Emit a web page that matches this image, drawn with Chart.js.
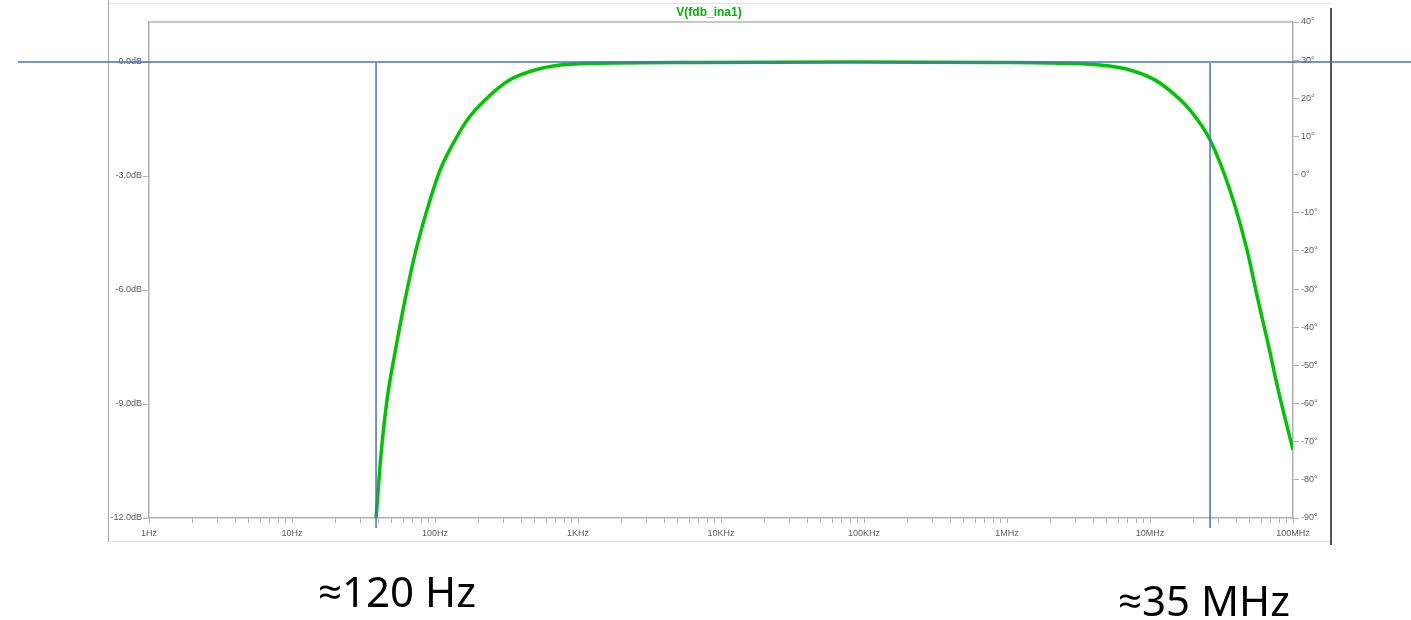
<!DOCTYPE html>
<html>
<head>
<meta charset="utf-8">
<script src="https://cdn.jsdelivr.net/npm/chart.js@4.4.1/dist/chart.umd.min.js"></script>
<style>
  html, body { margin: 0; padding: 0; background: #ffffff; }
  #wrap { position: relative; width: 1411px; height: 620px; }
  canvas { position: absolute; left: 0; top: 0; }
  .note { position: absolute; font-family: "Noto Sans", "Open Sans", sans-serif; font-size: 42px; color: #000; white-space: nowrap; line-height: 1; }
</style>
</head>
<body>
<div id="wrap">
  <canvas id="c" width="1411" height="620"></canvas>
  <div class="note" id="n1" style="left:318px; top:570px;">≈120 Hz</div>
  <div class="note" id="n2" style="left:1118px; top:579px;">≈35 MHz</div>
</div>
<script>
// ---- data ----
const chartTitle = 'V(fdb_ina1)';
const freqHz = [38.7, 41.9, 46.2, 53.4, 61.7, 73.6, 92.3, 108.4, 131.5, 170, 224, 334, 500, 748, 1425, 7130, 79800,
                893000, 2.35e6, 4.47e6, 7.24e6, 1.08e7, 1.50e7, 1.90e7, 2.63e7, 3.62e7, 4.77e7, 5.69e7, 6.68e7, 7.85e7, 1e8];
const magDb  = [-12.0, -10.34, -8.89, -7.5, -6.26, -4.95, -3.63, -2.85, -2.2, -1.5, -1.0, -0.47, -0.21, -0.08, -0.03, -0.01, 0,
                -0.01, -0.03, -0.08, -0.21, -0.47, -0.87, -1.26, -2.05, -3.37, -4.95, -6.26, -7.4, -8.6, -10.21];
const xTickValues = [1, 10, 100, 1e3, 1e4, 1e5, 1e6, 1e7, 1e8];
const xTickLabels = ['1Hz', '10Hz', '100Hz', '1KHz', '10KHz', '100KHz', '1MHz', '10MHz', '100MHz'];
const yLeftTicks  = [0, -3, -6, -9, -12];
const yLeftLabels = ['0.0dB', '-3.0dB', '-6.0dB', '-9.0dB', '-12.0dB'];
const yRightTicks  = [40, 30, 20, 10, 0, -10, -20, -30, -40, -50, -60, -70, -80, -90];
const yRightLabels = ['40°', '30°', '20°', '10°', '0°', '-10°', '-20°', '-30°', '-40°', '-50°', '-60°', '-70°', '-80°', '-90°'];
const markerFreqs = [38.7, 2.63e7];   // blue cursor lines (≈120 Hz, ≈35 MHz annotations)
const refLevelDb = 0;                 // blue horizontal reference line

// ---- helpers ----
const minorTicks = [];
xTickValues.forEach((d, i) => {
  minorTicks.push(d);
  if (i < xTickValues.length - 1) for (let m = 2; m <= 9; m++) minorTicks.push(d * m);
});

const framePlugin = {
  id: 'frame',
  beforeDraw(chart) {
    const ctx = chart.ctx, a = chart.chartArea;
    ctx.save();
    ctx.strokeStyle = '#e3e3e3'; ctx.lineWidth = 1;
    ctx.beginPath(); ctx.moveTo(108, 3.5); ctx.lineTo(1332, 3.5); ctx.stroke();
    ctx.beginPath(); ctx.moveTo(108, 541.5); ctx.lineTo(1332, 541.5); ctx.stroke();
    ctx.strokeStyle = '#a8a8a8';
    ctx.beginPath(); ctx.moveTo(108.5, 0); ctx.lineTo(108.5, 542); ctx.stroke();
    ctx.strokeStyle = '#555'; ctx.lineWidth = 2;
    ctx.beginPath(); ctx.moveTo(1331, 8); ctx.lineTo(1331, 545); ctx.stroke();
    ctx.strokeStyle = '#b5b5b5'; ctx.lineWidth = 1.5;
    ctx.beginPath(); ctx.moveTo(a.left, a.top); ctx.lineTo(a.right, a.top); ctx.stroke();
    // title
    ctx.fillStyle = '#00b400';
    ctx.font = 'bold 12px "Liberation Sans", Arial, sans-serif';
    ctx.textAlign = 'center'; ctx.textBaseline = 'middle';
    ctx.fillText(chartTitle, 709, 13);
    ctx.restore();
  },
  afterDatasetsDraw(chart) {
    const ctx = chart.ctx, x = chart.scales.x, y = chart.scales.y;
    const y0 = y.getPixelForValue(refLevelDb);
    const yb = y.getPixelForValue(-12);
    ctx.save();
    ctx.strokeStyle = '#4472c4'; ctx.lineWidth = 1.5;
    ctx.beginPath(); ctx.moveTo(18, y0); ctx.lineTo(1411, y0); ctx.stroke();
    markerFreqs.forEach(f => {
      const px = x.getPixelForValue(f);
      ctx.beginPath(); ctx.moveTo(px, y0 + 1); ctx.lineTo(px, yb + 10); ctx.stroke();
    });
    ctx.restore();
  }
};

const tickFont = { family: '"Liberation Sans", Arial, sans-serif', size: 9 };
const axisGrey = '#b0b0b0';

new Chart(document.getElementById('c'), {
  type: 'line',
  data: {
    datasets: [{
      data: freqHz.map((f, i) => ({ x: f, y: magDb[i] })),
      borderColor: '#00c400',
      borderWidth: 3.5,
      pointRadius: 0,
      cubicInterpolationMode: 'monotone',
      fill: false,
      yAxisID: 'y'
    }]
  },
  plugins: [framePlugin],
  options: {
    responsive: false,
    devicePixelRatio: 1,
    animation: false,
    layout: { padding: { left: 0, top: 22, right: 78, bottom: 79 } },
    plugins: { legend: { display: false }, tooltip: { enabled: false }, title: { display: false } },
    scales: {
      x: {
        type: 'logarithmic',
        min: 1, max: 1e8,
        afterBuildTicks: s => { s.ticks = minorTicks.map(v => ({ value: v })); },
        afterFit: s => { s.height = 23; },
        grid: { drawOnChartArea: false, tickLength: 5, color: axisGrey },
        border: { display: true, color: axisGrey, width: 1.5 },
        ticks: {
          autoSkip: false, maxRotation: 0, padding: 5,
          color: '#5a5a6a', font: tickFont,
          callback: v => { const i = xTickValues.indexOf(v); return i >= 0 ? xTickLabels[i] : ''; }
        }
      },
      y: {
        position: 'left',
        min: -12, max: 1.053,
        afterBuildTicks: s => { s.ticks = yLeftTicks.map(v => ({ value: v })); },
        afterFit: s => { s.width = 149; },
        grid: { drawOnChartArea: false, tickLength: 6, color: axisGrey },
        border: { display: true, color: axisGrey, width: 1.5 },
        ticks: {
          padding: 1, color: '#5a5a6a', font: tickFont,
          callback: v => { const i = yLeftTicks.indexOf(v); return i >= 0 ? yLeftLabels[i] : ''; }
        }
      },
      y2: {
        display: true,
        position: 'right',
        min: -90, max: 40,
        afterBuildTicks: s => { s.ticks = yRightTicks.map(v => ({ value: v })); },
        afterFit: s => { s.width = 40; },
        grid: { drawOnChartArea: false, tickLength: 6, color: axisGrey },
        border: { display: true, color: axisGrey, width: 1.5 },
        ticks: {
          padding: 2, color: '#5a5a6a', font: tickFont,
          callback: v => { const i = yRightTicks.indexOf(v); return i >= 0 ? yRightLabels[i] : ''; }
        }
      }
    }
  }
});
</script>
</body>
</html>
